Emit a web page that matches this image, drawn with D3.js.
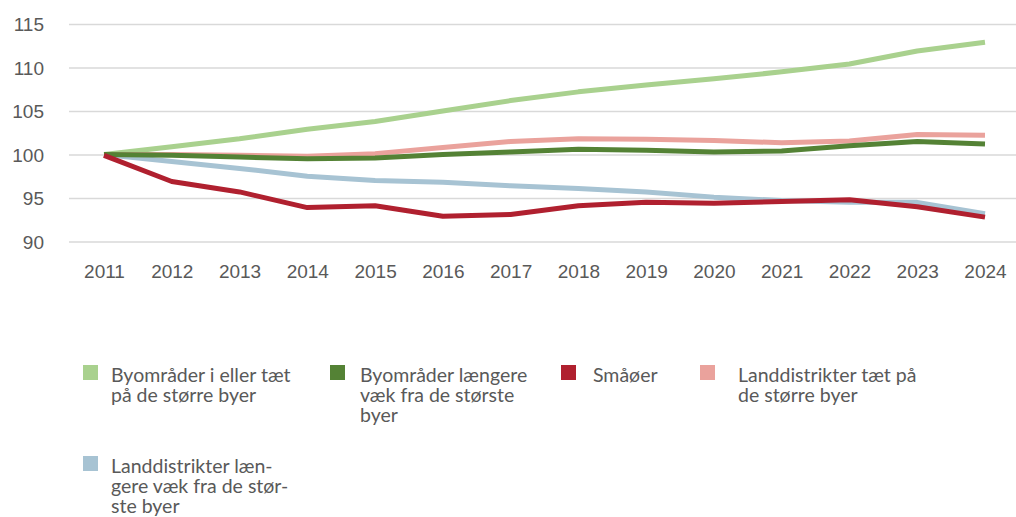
<!DOCTYPE html>
<html>
<head>
<meta charset="utf-8">
<style>
    body { margin: 0; background: #fff; }
    svg { display: block; font-family: Lato, 'Open Sans', sans-serif; }
    .tick text { fill: #595959; font-size: 19px; }
    .legend text { fill: #595959; font-size: 19.5px; }
</style>
</head>
<body>
<svg width="1016" height="517"></svg>
<script src="https://d3js.org/d3.v7.min.js"></script>
<script>
// years on the x axis
let years = [2011, 2012, 2013, 2014, 2015, 2016, 2017, 2018, 2019, 2020, 2021, 2022, 2023, 2024];
let yTicks = [90, 95, 100, 105, 110, 115];

// index values, 2011 = 100
let byNear   = [100, 100.9, 101.8, 102.9, 103.8, 105.0, 106.2, 107.2, 108.0, 108.7, 109.5, 110.4, 111.9, 112.9];
let byFar    = [100, 99.9, 99.7, 99.5, 99.6, 100.0, 100.3, 100.6, 100.5, 100.3, 100.4, 101.0, 101.5, 101.2];
let smaaoer  = [99.9, 96.9, 95.7, 93.9, 94.1, 92.9, 93.1, 94.1, 94.5, 94.4, 94.6, 94.8, 94.0, 92.8];
let landNear = [100, 100.0, 99.9, 99.8, 100.1, 100.8, 101.5, 101.8, 101.75, 101.6, 101.35, 101.55, 102.3, 102.2];
let landFar  = [100, 99.2, 98.4, 97.5, 97.0, 96.8, 96.4, 96.1, 95.7, 95.1, 94.7, 94.5, 94.5, 93.2];

let names = [
    ["Byområder i eller tæt", "på de større byer"],
    ["Byområder længere", "væk fra de største", "byer"],
    ["Småøer"],
    ["Landdistrikter tæt på", "de større byer"],
    ["Landdistrikter læn-", "gere væk fra de stør-", "ste byer"]
];
let colors = ["#a9d18e", "#548235", "#b0202f", "#eaa29c", "#a7c3d3"];
let series = [byNear, byFar, smaaoer, landNear, landFar];

let svg = d3.select("svg");

let x = d3.scalePoint().domain(years).range([104, 985]);
let y = d3.scaleLinear().domain([90, 115]).range([241.5, 24]);

// gridlines + y labels
let yAxis = svg.append("g")
    .attr("transform", "translate(69,0)")
    .call(d3.axisLeft(y).tickValues(yTicks).tickSize(-947).tickPadding(25).tickFormat(d3.format("d")));
yAxis.select(".domain").remove();
yAxis.selectAll(".tick line").attr("stroke", "#d9d9d9").attr("stroke-width", 1.5);
yAxis.selectAll(".tick text").attr("dy", "0.35em");

// x labels
let xAxis = svg.append("g")
    .attr("transform", "translate(0,261)")
    .call(d3.axisBottom(x).tickSize(0).tickPadding(4));
xAxis.select(".domain").remove();

let line = d3.line()
    .x((d, i) => x(years[i]))
    .y(d => y(d))
    .curve(d3.curveLinear);

// draw order so red sits on blue and dark green on pink
let order = [0, 3, 4, 1, 2];
svg.append("g")
    .selectAll("path")
    .data(order)
    .join("path")
    .attr("d", i => line(series[i]))
    .attr("fill", "none")
    .attr("stroke", i => colors[i])
    .attr("stroke-width", 5)
    .attr("stroke-linejoin", "round");

// legend
let legendPos = [[83, 365], [330, 365], [561, 365], [700, 365], [83, 456]];
let textX = [111, 360, 593, 738, 111];
let legend = svg.append("g").attr("class", "legend");
names.forEach((n, i) => {
    let [lx, ly] = legendPos[i];
    legend.append("rect")
        .attr("x", lx).attr("y", ly)
        .attr("width", 15).attr("height", 15)
        .attr("fill", colors[i]);
    let t = legend.append("text").attr("x", textX[i]).attr("y", ly + 17);
    n.forEach((s, j) => {
        t.append("tspan").attr("x", textX[i]).attr("dy", j == 0 ? 0 : 20).text(s);
    });
});
</script>
</body>
</html>
